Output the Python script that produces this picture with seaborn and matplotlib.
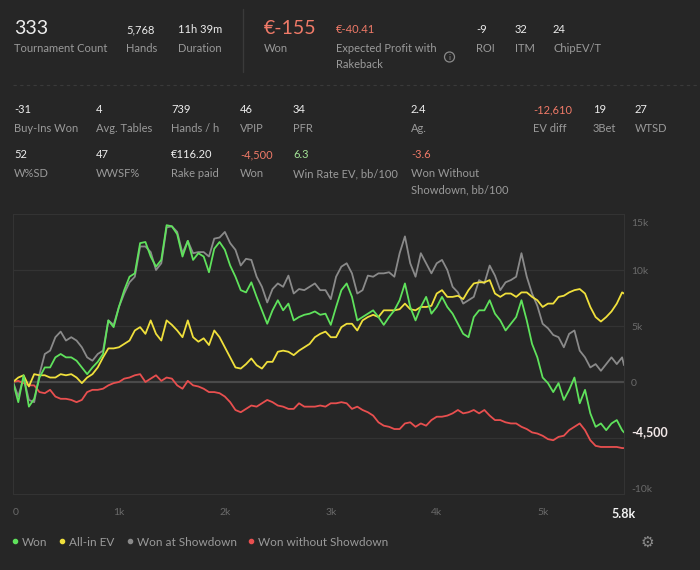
import numpy as np
import pandas as pd
import matplotlib
matplotlib.use("Agg")
import matplotlib.pyplot as plt
from matplotlib.lines import Line2D
from matplotlib.patches import Ellipse
import seaborn as sns

# hands played (x axis)
hands = [0, 50, 100, 150, 200, 250, 300, 350, 400, 450, 500, 550, 600, 650, 700, 750,
         800, 850, 900, 950, 1000, 1050, 1100, 1150, 1200, 1250, 1300, 1350, 1400, 1450,
         1500, 1550, 1600, 1650, 1700, 1750, 1800, 1850, 1900, 1950, 2000, 2050, 2100,
         2150, 2200, 2250, 2300, 2350, 2400, 2450, 2500, 2550, 2600, 2650, 2700, 2750,
         2800, 2850, 2900, 2950, 3000, 3050, 3100, 3150, 3200, 3250, 3300, 3350, 3400,
         3450, 3500, 3550, 3600, 3650, 3700, 3750, 3800, 3850, 3900, 3950, 4000, 4050,
         4100, 4150, 4200, 4250, 4300, 4350, 4400, 4450, 4500, 4550, 4600, 4650, 4700,
         4750, 4800, 4850, 4900, 4950, 5000, 5050, 5100, 5150, 5200, 5250, 5300, 5350,
         5400, 5450, 5500, 5550, 5600, 5650, 5700, 5750, 5768]

# cumulative results, in thousands
won_k = [0, -1.8, 0.6, -2.2, -1.5, 0.4, 1.3, 1.3, 2.2, 2.5, 2.2, 2.2, 1.9, 1.3, 0.7, 1.3,
         1.8, 2.5, 5.5, 4.9, 6.7, 8.2, 9.4, 9.7, 12.4, 12.5, 11.2, 10.3, 10.9, 14.0,
         13.9, 13.2, 11.2, 12.6, 10.9, 11.5, 11.2, 9.8, 11.9, 12.5, 11.8, 10.4, 9.4, 8.2,
         8.0, 8.9, 7.6, 6.4, 5.2, 6.4, 7.3, 6.4, 7.0, 5.5, 5.8, 6.0, 6.1, 6.3, 6.0,
         6.1, 5.1, 6.7, 8.2, 8.8, 7.6, 5.5, 5.8, 6.1, 6.4, 5.8, 5.1, 5.8, 6.4, 7.3, 8.8,
         6.7, 5.5, 6.7, 7.6, 6.1, 6.7, 7.6, 6.7, 6.1, 5.2, 4.3, 4.0, 5.8, 6.4,
         6.4, 7.3, 6.1, 5.5, 4.6, 5.2, 5.8, 7.3, 5.5, 3.4, 2.2, 0.4, -0.1, -0.9, -0.1,
         -1.6, -0.7, 0.4, -1.9, -0.7, -2.8, -4.0, -3.7, -4.3, -3.7, -3.4, -4.3, -4.5]
allin_ev_k = [0, 0.4, 0.6, -0.4, 0.7, 0.6, 0.6, 0.4, 0.4, 0.7, 0.6, 0.7, 0.4, -0.1, 0.4,
              0.7, 1.3, 2.2, 3.0, 3.0, 3.1, 3.4, 3.7, 4.6, 4.9, 4.3, 5.5, 4.3, 3.7, 5.5,
              5.1, 4.6, 4.0, 5.5, 4.0, 3.6, 3.9, 3.3, 4.6, 4.0, 3.1, 2.2, 1.3, 1.2, 1.6,
              2.1, 1.5, 1.2, 1.8, 1.8, 2.7, 2.8, 2.7, 2.4, 2.8, 3.1, 3.4, 4.0, 4.3,
              4.5, 4.0, 4.0, 4.9, 5.2, 5.2, 4.6, 5.5, 5.8, 6.0, 5.8, 6.4, 6.4, 6.4, 6.5,
              7.0, 6.5, 6.4, 6.7, 6.7, 6.8, 7.9, 8.2, 7.6, 7.6, 7.7, 7.4, 8.2, 8.8, 8.9,
              8.9, 9.1, 7.9, 7.6, 7.9, 7.9, 7.6, 8.0, 8.0, 7.6, 7.3, 6.7, 7.0, 7.0, 7.6,
              7.7, 8.0, 8.2, 8.3, 7.9, 6.7, 5.8, 5.4, 5.8, 6.3, 7.0, 8.0, 7.9]
won_sd_k = [0, -1.3, 0.4, -1.6, -1.8, 0.7, 2.5, 2.8, 4.0, 4.5, 3.7, 4.0, 3.7, 3.1, 2.2,
            1.9, 2.5, 2.8, 5.5, 5.1, 6.7, 7.9, 8.9, 9.4, 12.1, 12.1, 11.6, 10.0, 10.6, 13.8,
            13.9, 13.4, 11.5, 12.6, 11.5, 11.6, 11.6, 11.2, 12.8, 12.9, 13.4, 12.4, 11.8,
            10.4, 11.0, 10.9, 9.4, 8.5, 7.1, 8.3, 8.8, 8.5, 9.5, 7.9, 8.3, 8.2, 8.5, 8.8, 8.2,
            8.2, 7.4, 9.4, 10.3, 10.6, 9.7, 7.9, 8.2, 9.5, 9.4, 9.7, 9.7, 9.8, 9.4, 11.5,
            13.0, 10.6, 9.4, 11.5, 10.6, 9.7, 10.6, 10.9, 10.0, 8.5, 8.0, 7.0, 7.3, 7.6, 9.1,
            8.8, 10.4, 9.5, 8.2, 8.9, 9.1, 9.4, 11.5, 9.4, 7.9, 6.8, 5.2, 4.8, 4.2, 4.0,
            3.1, 4.3, 4.6, 2.8, 2.2, 1.3, 1.6, 1.0, 1.6, 2.2, 1.6, 2.2, 1.5]
won_nosd_k = [0, 0.1, -0.1, -0.3, -0.3, -0.9, -1.0, -0.7, -1.3, -1.5, -1.5, -1.6, -1.8,
              -1.6, -0.9, -0.7, -0.7, -0.6, -0.3, -0.1, 0, 0.3, 0.4, 0.6, 0.7, 0, 0.3,
              0.6, 0.1, 0.4,
              0.3, -0.3, -0.6, 0.1, -0.3, -0.4, -0.6, -0.9, -0.9, -1.0, -1.3, -1.8, -2.5,
              -2.7, -2.4, -2.1, -2.2, -1.9, -1.6, -1.8, -2.1, -2.2, -2.4, -2.4, -1.9, -2.2,
              -2.2, -2.2, -2.1,
              -2.2, -1.9, -1.9, -1.8, -1.9, -2.4, -2.2, -2.5, -2.7, -3.0, -3.6, -3.9, -4.0,
              -4.2, -4.2, -3.7, -3.6, -4.0, -3.7, -3.9, -3.4, -3.1, -3.1, -3.0, -2.8, -2.5,
              -2.8, -2.7, -2.5, -2.8,
              -2.5, -3.0, -3.4, -3.4, -3.6, -3.7, -3.7, -4.0, -4.2, -4.5, -4.6, -4.8, -5.1,
              -5.2, -4.9, -4.8, -4.3, -4.0, -3.7, -4.3, -5.2, -5.7, -5.8, -5.8, -5.8, -5.8,
              -5.9, -5.9]

series_names = ["Won", "All-in EV", "Won at Showdown", "Won without Showdown"]
series_colors = ["#5fe25c", "#f0e03c", "#8a8a8a", "#e84f4f"]

y_ticks = [-10000, -5000, 0, 5000, 10000, 15000]
y_labels = ["-10k", "", "0", "5k", "10k", ""]
x_ticks = [0, 1000, 2000, 3000, 4000, 5000]
x_labels = ["0", "1k", "2k", "3k", "4k", "5k"]

BG = "#262626"
VAL = "#ededed"
LAB = "#9a9a9a"
RED = "#f07a68"
GREEN = "#a3e396"
TICK = "#6a6a6a"

sns.set_style("dark")
plt.rcParams["font.family"] = ["Lato", "DejaVu Sans"]

df = pd.DataFrame({"hands": hands,
                   "Won": np.array(won_k) * 1000,
                   "All-in EV": np.array(allin_ev_k) * 1000,
                   "Won at Showdown": np.array(won_sd_k) * 1000,
                   "Won without Showdown": np.array(won_nosd_k) * 1000})
long = df.melt(id_vars="hands", var_name="series", value_name="value")

W, H = 700, 570
fig = plt.figure(figsize=(7, 5.7), dpi=100, facecolor=BG)


def fx(x):
    return x / W


def fy(y):
    return 1 - y / H


ax = fig.add_axes([fx(13), fy(494), fx(611), 280 / H])
ax.set_facecolor(BG)

# grid + zero line
for v in [-5000, 5000, 10000]:
    ax.axhline(v, color="#333333", lw=0.9, zorder=0)
ax.axhline(0, color="#4a4a4a", lw=1.6, zorder=0)

draw_order = ["Won at Showdown", "Won without Showdown", "All-in EV", "Won"]
pal = dict(zip(series_names, series_colors))
for name in draw_order:
    sns.lineplot(data=long[long["series"] == name], x="hands", y="value",
                 color=pal[name], lw=1.3, ax=ax, legend=False)

ax.set_xlim(0, 5768)
ax.set_ylim(-10000, 15000)
ax.set_xlabel("")
ax.set_ylabel("")
for s in ax.spines.values():
    s.set_color("#333333")
    s.set_linewidth(0.8)

ax.yaxis.tick_right()
ax.set_yticks(y_ticks)
ax.set_yticklabels(y_labels)
ax.tick_params(axis="y", length=0, pad=5, labelsize=7.5, labelcolor=TICK)
ax.get_yticklabels()[0].set_va("bottom")
# top label sits inside the plot box
ax.annotate("15k", xy=(1, 15000), xycoords=("axes fraction", "data"),
            xytext=(5, -7), textcoords="offset points", va="center", ha="left",
            color=TICK, fontsize=7.5, annotation_clip=False)

ax.set_xticks(x_ticks + [5768])
ax.set_xticklabels(x_labels + ["5.8k"])
ax.tick_params(axis="x", length=0, pad=10, labelsize=7.5, labelcolor=TICK)
xlab = ax.get_xticklabels()
xlab[0].set_ha("left")
xlab[-1].set_color("#f2f2f2")
xlab[-1].set_fontweight("bold")
xlab[-1].set_fontsize(9)

ax.annotate("-4,500", xy=(1, won_k[-1] * 1000), xycoords=("axes fraction", "data"),
            xytext=(5.5, 0), textcoords="offset points", va="center", ha="left",
            color="#f3e9e9", fontsize=9, fontweight="bold", annotation_clip=False)


# header stats
def stat(x, y, value, label, vcolor=VAL, vsize=8, label2=None):
    fig.text(fx(x), fy(y), value, color=vcolor, fontsize=vsize, va="baseline")
    fig.text(fx(x), fy(y + 19 if vsize < 10 else y + 18), label, color=LAB,
             fontsize=8, va="baseline")
    if label2:
        fig.text(fx(x), fy(y + 35 if vsize < 10 else y + 34), label2, color=LAB,
                 fontsize=8, va="baseline")


stat(14, 34, "333", "Tournament Count", vsize=14)
stat(126, 33, "5,768", "Hands")
stat(178, 33, "11h 39m", "Duration")
stat(264, 34, "€-155", "Won", vcolor=RED, vsize=14)
stat(336, 33, "€-40.41", "Expected Profit with", vcolor=RED, label2="Rakeback")
stat(476, 33, "-9", "ROI")
stat(515, 33, "32", "ITM")
stat(553, 33, "24", "ChipEV/T")

row2 = [(14, "-31", "Buy-Ins Won", VAL), (96, "4", "Avg. Tables", VAL),
        (171, "739", "Hands / h", VAL), (240, "46", "VPIP", VAL),
        (293, "34", "PFR", VAL), (411, "2.4", "Ag.", VAL),
        (533, "-12,610", "EV diff", RED), (593, "19", "3Bet", VAL),
        (635, "27", "WTSD", VAL)]
for x, v, l, c in row2:
    stat(x, 113, v, l, vcolor=c)

row3 = [(14, "52", "W%SD", VAL), (96, "47", "WWSF%", VAL),
        (171, "€116.20", "Rake paid", VAL), (240, "-4,500", "Won", RED),
        (293, "6.3", "Win Rate EV, bb/100", GREEN)]
for x, v, l, c in row3:
    stat(x, 158, v, l, vcolor=c)
stat(411, 158, "-3.6", "Won Without", vcolor=RED, label2="Showdown, bb/100")

# separators and info icon
fig.add_artist(Line2D([fx(243), fx(243)], [fy(9), fy(72)], color="#3a3a3a", lw=1))
fig.add_artist(Line2D([fx(13), fx(700)], [fy(85), fy(85)], color="#3a3a3a", lw=0.8,
                      ls=(0, (3, 3))))
fig.add_artist(Ellipse((fx(449.5), fy(57)), 10 / W, 10 / H, fill=False,
                       edgecolor="#8a8a8a", lw=0.9))
fig.text(fx(449.5), fy(57), "i", color="#8a8a8a", fontsize=6, ha="center", va="center")

# legend
handles = [Line2D([], [], marker="o", ls="", color=c, markersize=3)
           for c in series_colors]
fig.legend(handles, series_names, loc="center left", bbox_to_anchor=(fx(12), fy(542)),
           ncol=4, frameon=False, fontsize=8.5, labelcolor=LAB, handlelength=0.5,
           handletextpad=0.35, columnspacing=1.0, borderpad=0, borderaxespad=0)
fig.text(fx(647), fy(542), "⚙", color="#8a8a8a", fontsize=11, ha="center", va="center",
         family="DejaVu Sans")

fig.savefig("out.png", dpi=100, facecolor=BG)
